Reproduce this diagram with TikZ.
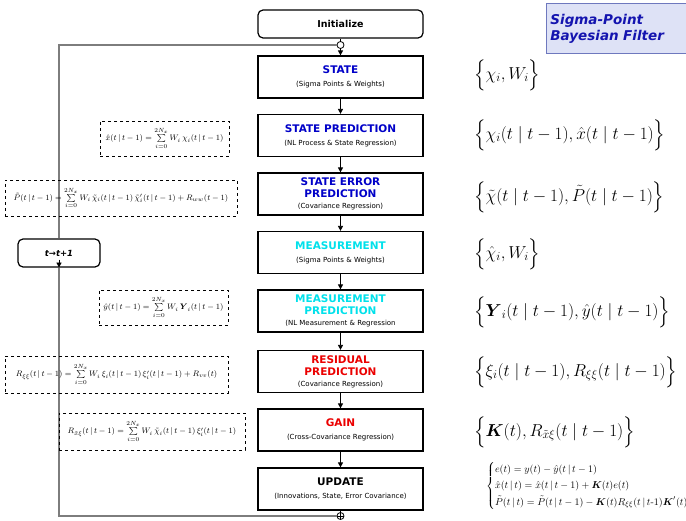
\documentclass[tikz,border=0pt]{standalone}
\usepackage{amsmath}
\usepackage{fontspec}
\newfontfamily\bxf{DejaVu Sans}
\usetikzlibrary{arrows.meta}
\definecolor{dblue}{RGB}{0,0,200}
\definecolor{mcyan}{RGB}{0,225,235}
\definecolor{mred}{RGB}{235,0,0}
\definecolor{loopgray}{RGB}{125,125,125}
\definecolor{ttlfill}{RGB}{222,226,246}
\definecolor{ttldraw}{RGB}{110,120,190}
\definecolor{ttltext}{RGB}{20,20,175}
\newcommand\ttlf{\bxf\bfseries\fontsize{10.5}{12}\selectfont}
\newcommand\subf{\bxf\fontsize{7}{8}\selectfont}
\newcommand\gv{\,|\,}
\begin{document}
\begin{tikzpicture}[x=1pt,y=-1pt,
  mbox/.style={draw,line width=1.2pt,minimum width=165pt,minimum height=42pt,inner sep=1pt,align=center,fill=white,font=\subf},
  ibox/.style={draw,line width=1.2pt,rounded corners=5pt,minimum width=165pt,minimum height=28pt,fill=white},
  dbox/.style={draw,dashed,line width=0.5pt,inner sep=1pt,font=\fontsize{8.5}{10}\selectfont},
  rform/.style={anchor=west,inner sep=0pt,font=\fontsize{18}{20}\selectfont},
  arr/.style={line width=0.8pt,-{Triangle[length=5pt,width=5pt]}},
  lpl/.style={draw=loopgray,line width=1.3pt},
  circ/.style={circle,draw,line width=0.8pt,minimum size=7pt,inner sep=0pt,fill=white}
]
\useasboundingbox (0,0) rectangle (686,521);

% main chain
\node[ibox] (init) at (340.5,24) {\bxf\bfseries\fontsize{9.5}{11}\selectfont Initialize};
\node[mbox] (state) at (340.5,77) {{\ttlf\color{dblue}STATE}\\[5pt](Sigma Points \& Weights)};
\node[mbox] (sp) at (340.5,135.5) {{\ttlf\color{dblue}STATE PREDICTION}\\[5pt](NL Process \& State Regression)};
\node[mbox] (sep) at (340.5,194) {{\ttlf\color{dblue}STATE ERROR}\\[4pt]{\ttlf\color{dblue}PREDICTION}\\[3pt](Covariance Regression)};
\node[mbox] (meas) at (340.5,252.5) {{\ttlf\color{mcyan}MEASUREMENT}\\[5pt](Sigma Points \& Weights)};
\node[mbox] (mp) at (340.5,311) {{\ttlf\color{mcyan}MEASUREMENT}\\[4pt]{\ttlf\color{mcyan}PREDICTION}\\[3pt](NL Measurement \& Regression};
\node[mbox] (rp) at (340.5,371.5) {{\ttlf\color{mred}RESIDUAL}\\[4pt]{\ttlf\color{mred}PREDICTION}\\[3pt](Covariance Regression)};
\node[mbox] (gain) at (340.5,430) {{\ttlf\color{mred}GAIN}\\[5pt](Cross-Covariance Regression)};
\node[mbox] (upd) at (340.5,489) {{\ttlf UPDATE}\\[5pt](Innovations, State, Error Covariance)};

\node[circ] (cA) at (340.5,45) {};
\node[circ] (cB) at (340.5,516) {};
\draw[line width=0.6pt] (cB.north) -- (cB.south) (cB.west) -- (cB.east);

\draw[line width=0.8pt] (init.south) -- (cA.north);
\draw[arr] (cA.south) -- (state.north);
\draw[arr] (state.south) -- (sp.north);
\draw[arr] (sp.south) -- (sep.north);
\draw[arr] (sep.south) -- (meas.north);
\draw[arr] (meas.south) -- (mp.north);
\draw[arr] (mp.south) -- (rp.north);
\draw[arr] (rp.south) -- (gain.north);
\draw[arr] (gain.south) -- (upd.north);
\draw[line width=0.8pt] (upd.south) -- (cB.north);

% feedback loop
\node[ibox,minimum width=82pt,minimum height=28pt] (tt) at (59,253) {\bxf\bfseries\itshape\fontsize{8.5}{10}\selectfont t→t+1};
\coordinate (lt) at (59,45);
\coordinate (lb) at (59,516);
\draw[lpl] (cA.west) -- (lt) -- (tt.north);
\draw[lpl] (cB.west) -- (lb) -- (tt.south);
\draw[line width=0.8pt,-{Triangle[length=5pt,width=5pt]}] ([yshift=8pt]tt.south) -- (tt.south);

% dashed formula boxes
\node[dbox,minimum width=129pt,minimum height=35pt] (f1) at (164.5,138.5)
  {$\hat{x}(t\gv t-1)=\sum\limits_{i=0}^{2N_x} W_i\,\chi_i(t\gv t-1)$};
\node[dbox,minimum width=232pt,minimum height=36pt] (f2) at (121,198)
  {$\tilde{P}(t\gv t-1)=\sum\limits_{i=0}^{2N_x} W_i\,\tilde{\chi}_i(t\gv t-1)\,\tilde{\chi}_i'(t\gv t-1)+R_{ww}(t-1)$};
\node[dbox,minimum width=129pt,minimum height=35pt] (f3) at (163.5,307.5)
  {$\hat{y}(t\gv t-1)=\sum\limits_{i=0}^{2N_x} W_i\,\boldsymbol{Y}_i(t\gv t-1)$};
\node[dbox,minimum width=223pt,minimum height=37pt] (f4) at (116.5,374.5)
  {$R_{\xi\xi}(t\gv t-1)=\sum\limits_{i=0}^{2N_x} W_i\,\xi_i(t\gv t-1)\,\xi_i'(t\gv t-1)+R_{vv}(t)$};
\node[dbox,minimum width=186pt,minimum height=37pt] (f5) at (152,431.5)
  {$R_{\tilde{x}\xi}(t\gv t-1)=\sum\limits_{i=0}^{2N_x} W_i\,\tilde{\chi}_i(t\gv t-1)\,\xi_i'(t\gv t-1)$};

% right column
\node[rform] (r1) at (474,75) {$\Bigl\{\chi_i, W_i\Bigr\}$};
\node[rform] (r2) at (474,135) {$\Bigl\{\chi_i(t\mid t-1),\hat{x}(t\mid t-1)\Bigr\}$};
\node[rform] (r3) at (474,197) {$\Bigl\{\tilde{\chi}(t\mid t-1),\tilde{P}(t\mid t-1)\Bigr\}$};
\node[rform] (r4) at (474,254) {$\Bigl\{\hat{\chi}_i, W_i\Bigr\}$};
\node[rform] (r5) at (474,312) {$\Bigl\{\boldsymbol{Y}_i(t\mid t-1),\hat{y}(t\mid t-1)\Bigr\}$};
\node[rform] (r6) at (474,372) {$\Bigl\{\xi_i(t\mid t-1),R_{\xi\xi}(t\mid t-1)\Bigr\}$};
\node[rform] (r7) at (474,432) {$\Bigl\{\boldsymbol{K}(t),R_{\tilde{x}\xi}(t\mid t-1)\Bigr\}$};
\node[anchor=west,inner sep=0pt,font=\fontsize{10}{12}\selectfont] (r8) at (486,486)
  {$\begin{cases} e(t)=y(t)-\hat{y}(t\gv t-1)\\[2pt] \hat{x}(t\gv t)=\hat{x}(t\gv t-1)+\boldsymbol{K}(t)e(t)\\[2pt] \tilde{P}(t\gv t)=\tilde{P}(t\gv t-1)-\boldsymbol{K}(t)R_{\xi\xi}(t\gv t\text{-}1)\boldsymbol{K}'(t)\end{cases}$};

% title
\node[anchor=north west,draw=ttldraw,fill=ttlfill,line width=0.8pt,minimum height=50pt,text width=136pt,
  align=left,inner sep=4pt,text=ttltext,font=\bxf\bfseries\itshape\fontsize{13.5}{16}\selectfont] (title) at (546,3)
  {Sigma-Point\\Bayesian Filter};
\end{tikzpicture}
\end{document}
